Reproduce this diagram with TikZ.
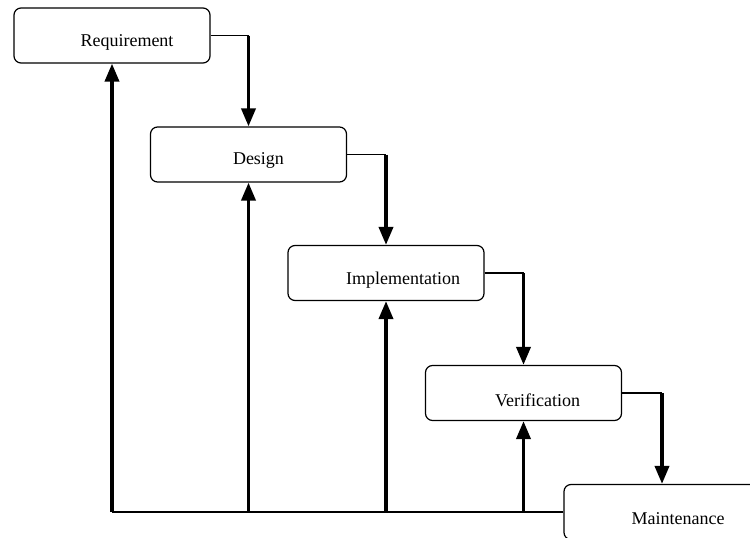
\documentclass[tikz,border=0pt]{standalone}
\usepackage{fontspec}
\setmainfont{Liberation Serif}
\usetikzlibrary{arrows.meta}
\begin{document}
\begin{tikzpicture}[x=1pt,y=-1pt,>={Triangle[width=14pt,length=18pt]},
  phase/.style={draw,line width=1.2pt,rounded corners=7pt,minimum width=196pt,minimum height=55pt,inner sep=0pt},
  link/.style={line width=1.4pt},
  flow/.style={line width=3.6pt,->},
  base/.style={line width=2.4pt}]
\useasboundingbox (0,0) rectangle (750,538);
\clip (0,0) rectangle (750,538);
\fontsize{18}{20}\selectfont
\node[phase,label={[shift={(15pt,-7pt)}]center:Requirement}] (Req) at (112,35.5) {};
\node[phase,label={[shift={(10pt,-6pt)}]center:Design}] (Des) at (248.5,154.5) {};
\node[phase,label={[shift={(17pt,-7pt)}]center:Implementation}] (Imp) at (386,273) {};
\node[phase,label={[shift={(14pt,-7pt)}]center:Verification}] (Ver) at (523.5,393) {};
\node[phase,label={[shift={(16pt,-7pt)}]center:Maintenance}] (Mai) at (662,512) {};
% downward flow
\draw[link] (Req.east) -- (Req.east -| Des.north);
\draw[flow] (Req.east -| Des.north) -- (Des.north);
\draw[link] (Des.east) -- (Des.east -| Imp.north);
\draw[flow] (Des.east -| Imp.north) -- (Imp.north);
\draw[link] (Imp.east) -- (Imp.east -| Ver.north);
\draw[flow] (Imp.east -| Ver.north) -- (Ver.north);
\draw[link] (Ver.east) -- (Ver.east -| Mai.north);
\draw[flow] (Ver.east -| Mai.north) -- (Mai.north);
% feedback
\draw[base] (Mai.west) -- (Mai.west -| Req.south);
\draw[flow] (Req.south |- Mai.west) -- (Req.south);
\draw[flow] (Des.south |- Mai.west) -- (Des.south);
\draw[flow] (Imp.south |- Mai.west) -- (Imp.south);
\draw[flow] (Ver.south |- Mai.west) -- (Ver.south);
\end{tikzpicture}
\end{document}
